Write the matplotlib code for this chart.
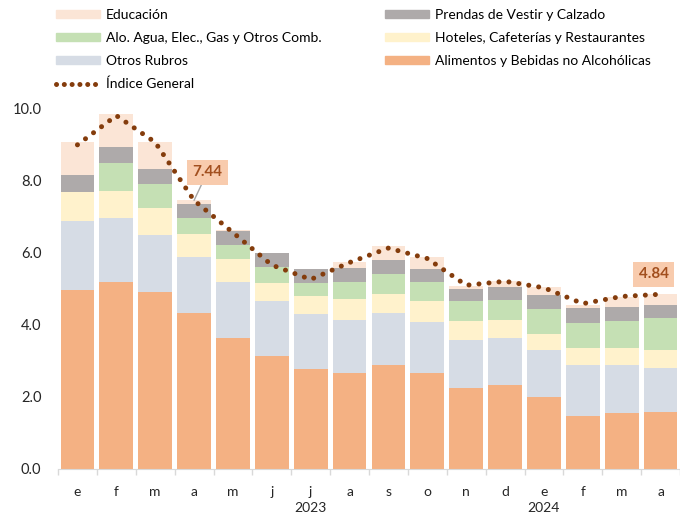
import matplotlib
matplotlib.use("Agg")
import matplotlib.pyplot as plt
from matplotlib.lines import Line2D
from matplotlib.patches import Patch
import numpy as np

plt.rcParams["font.family"] = ["Lato", "DejaVu Sans"]

# Datos (puntos porcentuales de contribución)
meses = ["e", "f", "m", "a", "m", "j", "j", "a", "s", "o", "n", "d", "e", "f", "m", "a"]
anios = {6: "2023", 12: "2024"}

alimentos = [4.97, 5.18, 4.90, 4.31, 3.64, 3.12, 2.77, 2.67, 2.88, 2.67, 2.23, 2.33, 2.00, 1.47, 1.54, 1.58]
otros = [1.90, 1.76, 1.58, 1.56, 1.55, 1.53, 1.51, 1.47, 1.43, 1.39, 1.33, 1.31, 1.31, 1.40, 1.33, 1.23]
hoteles = [0.80, 0.76, 0.76, 0.65, 0.64, 0.51, 0.51, 0.58, 0.55, 0.59, 0.55, 0.50, 0.43, 0.48, 0.48, 0.50]
alojamiento = [-0.04, 0.77, 0.65, 0.42, 0.37, 0.43, 0.37, 0.47, 0.55, 0.54, 0.54, 0.54, 0.69, 0.69, 0.76, 0.88]
prendas = [0.47, 0.46, 0.43, 0.39, 0.39, 0.40, 0.39, 0.39, 0.39, 0.36, 0.35, 0.36, 0.38, 0.42, 0.39, 0.35]
educacion = [0.93, 0.90, 0.75, 0.12, 0.03, -0.02, -0.02, 0.15, 0.37, 0.32, 0.06, 0.16, 0.24, 0.07, 0.27, 0.31]
indice = [8.98, 9.79, 9.05, 7.44, 6.55, 5.65, 5.25, 5.72, 6.12, 5.83, 5.09, 5.20, 5.02, 4.58, 4.78, 4.84]

series = [
    ("Alimentos y Bebidas no Alcohólicas", alimentos, "#F4B183"),
    ("Otros Rubros", otros, "#D6DCE5"),
    ("Hoteles, Cafeterías y Restaurantes", hoteles, "#FFF2CC"),
    ("Alo. Agua, Elec., Gas y Otros Comb.", alojamiento, "#C5E0B4"),
    ("Prendas de Vestir y Calzado", prendas, "#AEAAAA"),
    ("Educación", educacion, "#FBE5D6"),
]
COLOR_LINEA = "#843C0C"

fig = plt.figure(figsize=(6.8, 5.16), dpi=100)
ax = fig.add_axes([58/680, 1 - 469/516, 622/680, 361/516])

x = np.arange(len(meses))
pos = np.zeros(len(meses))
neg = np.zeros(len(meses))
for nombre, vals, color in series:
    v = np.array(vals)
    base = np.where(v >= 0, pos, neg)
    ax.bar(x, v, 0.87, bottom=base, color=color, linewidth=0)
    pos = pos + np.where(v >= 0, v, 0)
    neg = neg + np.where(v < 0, v, 0)

ax.plot(x, indice, color=COLOR_LINEA, lw=3.6, dashes=(0.01, 2.0),
        dash_capstyle="round", zorder=5)

# etiquetas de valores
caja = dict(boxstyle="square,pad=0.35", fc="#F8CBAD", ec="none")
ax.annotate(f"{indice[3]:.2f}", xy=(3, indice[3]), xytext=(3.34, 8.22),
            ha="center", va="center", fontsize=11, fontweight="bold",
            color="#A24F1E", bbox=caja,
            arrowprops=dict(arrowstyle="-", color="#A6A6A6", lw=1, shrinkA=0, shrinkB=0))
ax.text(14.82, 5.39, f"{indice[-1]:.2f}", ha="center", va="center", fontsize=11,
        fontweight="bold", color="#A24F1E", bbox=caja, zorder=6)

ax.set_xlim(-0.5, len(meses) - 0.5)
ax.set_ylim(0, 10)
ax.set_yticks(np.arange(0, 10.1, 2))
ax.set_yticklabels([f"{t:.1f}" for t in np.arange(0, 10.1, 2)], fontsize=10.5, color="#262626")
ax.tick_params(axis="y", length=0, pad=12)
ax.set_xticks(x)
ax.set_xticklabels(meses, fontsize=10, color="#262626")
ax.tick_params(axis="x", which="major", length=0, pad=12)
ax.set_xticks(np.arange(-0.5, len(meses), 1), minor=True)
ax.tick_params(axis="x", which="minor", length=4, color="#D9D9D9", width=1)
for idx, anio in anios.items():
    ax.text(idx, -0.108, anio, transform=ax.get_xaxis_transform(), ha="center",
            va="center", fontsize=10, color="#262626")

for s in ["top", "right", "left"]:
    ax.spines[s].set_visible(False)
ax.spines["bottom"].set_color("#D9D9D9")

# leyenda en dos columnas
col1 = [Patch(color="#FBE5D6"), Patch(color="#C5E0B4"), Patch(color="#D6DCE5"),
        Line2D([0], [0], color=COLOR_LINEA, lw=3.6, dashes=(0.01, 1.55), dash_capstyle="round")]
lab1 = ["Educación", "Alo. Agua, Elec., Gas y Otros Comb.", "Otros Rubros", "Índice General"]
col2 = [Patch(color="#AEAAAA"), Patch(color="#FFF2CC"), Patch(color="#F4B183")]
lab2 = ["Prendas de Vestir y Calzado", "Hoteles, Cafeterías y Restaurantes",
        "Alimentos y Bebidas no Alcohólicas"]
kw = dict(loc="upper left", frameon=False, fontsize=10, handlelength=3.2,
          handleheight=0.5, handletextpad=0.4, labelspacing=0.78, borderaxespad=0,
          borderpad=0)
fig.legend(col1, lab1, bbox_to_anchor=(56/680, 1 - 9/516), **kw)
fig.legend(col2, lab2, bbox_to_anchor=(385/680, 1 - 9/516), **kw)

fig.savefig("out.png", dpi=100)
